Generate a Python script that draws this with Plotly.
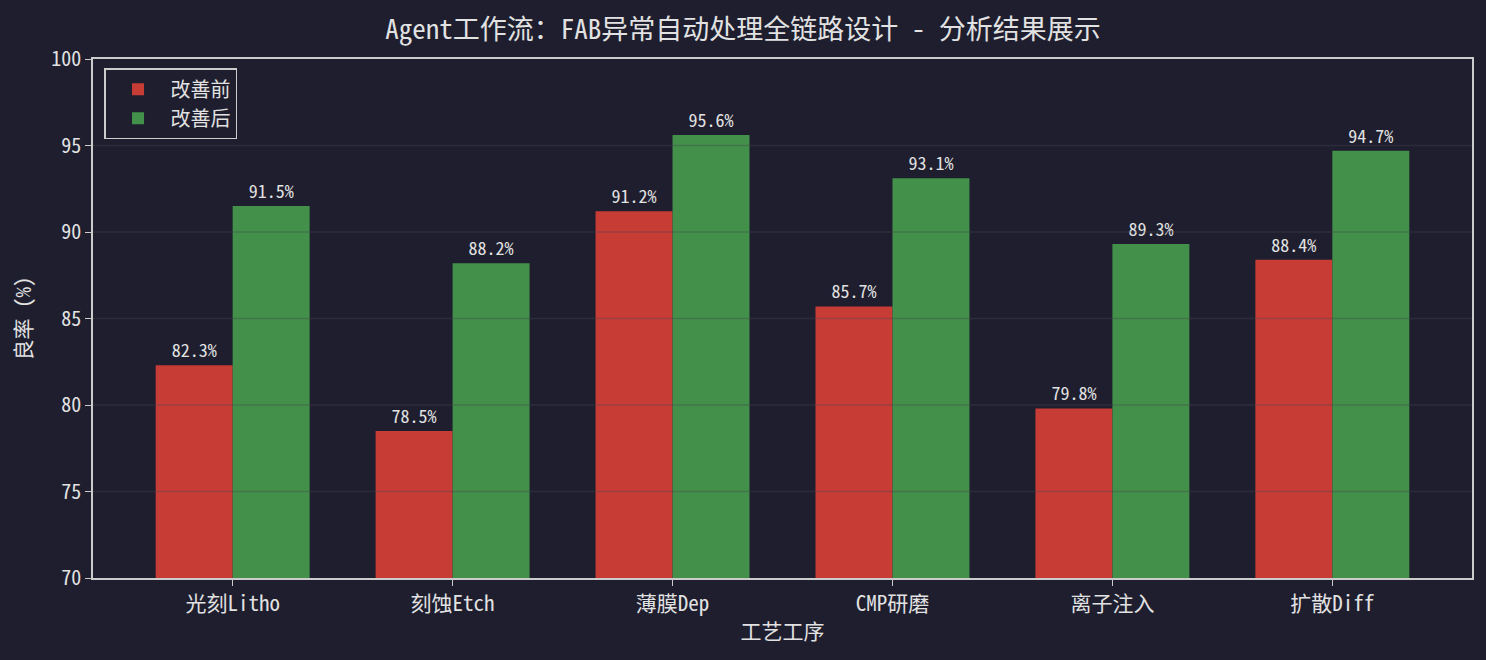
import plotly.graph_objects as go

# data
categories = ['光刻Litho', '刻蚀Etch', '薄膜Dep', 'CMP研磨', '离子注入', '扩散Diff']
before = [82.3, 78.5, 91.2, 85.7, 79.8, 88.4]
after = [91.5, 88.2, 95.6, 93.1, 89.3, 94.7]
y_ticks = [70, 75, 80, 85, 90, 95, 100]

bg = '#1e1e2e'
txt = '#e2e2e2'
axis_c = '#cccccc'
font_fam = 'Noto Sans Mono CJK SC, DejaVu Sans Mono, Noto Sans CJK SC'

fig = go.Figure()

fig.add_trace(go.Bar(
    x=categories, y=before, name='改善前',
    marker_color='#c83c36', marker_line_width=0,
    texttemplate='%{y:.1f}%', textposition='outside',
    textfont=dict(color=txt, size=18),
    cliponaxis=False,
))
fig.add_trace(go.Bar(
    x=categories, y=after, name='改善后',
    marker_color='#42904a', marker_line_width=0,
    texttemplate='%{y:.1f}%', textposition='outside',
    textfont=dict(color=txt, size=18),
    cliponaxis=False,
))

# faint grid drawn over the bars
for t in y_ticks[1:-1]:
    fig.add_hline(y=t, line_color='rgba(70,70,80,0.35)', line_width=1.5, layer='above')

fig.update_layout(
    width=1486, height=660,
    paper_bgcolor=bg, plot_bgcolor=bg,
    font=dict(family=font_fam, color=txt, size=20),
    title=dict(text='Agent工作流：FAB异常自动处理全链路设计 - 分析结果展示',
               x=0.5, xanchor='center', y=0.955, yanchor='middle',
               font=dict(size=27, color=txt)),
    barmode='group', bargap=0.3, bargroupgap=0,
    margin=dict(l=93, r=14, t=59, b=82),
    showlegend=True,
    legend=dict(x=0.008, y=0.982, xanchor='left', yanchor='top',
                bgcolor=bg, bordercolor=axis_c, borderwidth=1.5,
                itemwidth=55,
                font=dict(size=20, color=txt)),
)

fig.update_xaxes(
    range=[-0.635, 5.635],
    showline=True, linecolor=axis_c, linewidth=1.5, mirror=True,
    ticks='outside', tickcolor=axis_c, ticklen=6,
    showgrid=False,
    title=dict(text='工艺工序', font=dict(size=21, color=txt), standoff=8),
    tickfont=dict(size=21, color=txt),
)
fig.update_yaxes(
    range=[70, 100], tickvals=y_ticks,
    showline=True, linecolor=axis_c, linewidth=1.5, mirror=True,
    ticks='outside', tickcolor=axis_c, ticklen=6,
    showgrid=False, zeroline=False,
    title=dict(text='良率 (%)', font=dict(size=21, color=txt), standoff=14),
    tickfont=dict(size=20, color=txt),
)

fig.write_html("out.html",
               config={'displayModeBar': False},
               post_script="document.body.style.margin='0';document.body.style.background='#1e1e2e';")
